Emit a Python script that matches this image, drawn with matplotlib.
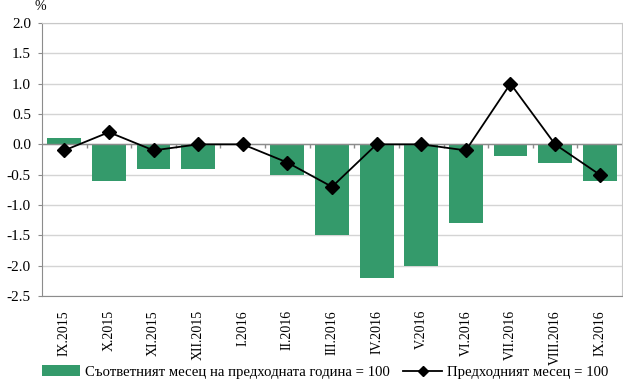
import matplotlib
matplotlib.use("Agg")
import matplotlib.pyplot as plt
from matplotlib.markers import TICKDOWN
import numpy as np

months = ["IX.2015", "X.2015", "XI.2015", "XII.2015", "I.2016", "II.2016", "III.2016",
          "IV.2016", "V.2016", "VI.2016", "VII.2016", "VIII.2016", "IX.2016"]
same_month_prev_year = [0.1, -0.6, -0.4, -0.4, 0.0, -0.5, -1.5, -2.2, -2.0, -1.3, -0.2, -0.3, -0.6]
prev_month = [-0.1, 0.2, -0.1, 0.0, 0.0, -0.3, -0.7, 0.0, 0.0, -0.1, 1.0, 0.0, -0.5]
yticks = [2.0, 1.5, 1.0, 0.5, 0.0, -0.5, -1.0, -1.5, -2.0, -2.5]

plt.rcParams['font.family'] = ['Liberation Serif', 'DejaVu Serif']

fig = plt.figure(figsize=(6.23, 3.80), dpi=100)
ax = fig.add_axes([42 / 623, 1 - 296 / 380, 580 / 623, 273 / 380])

x = np.arange(len(months))
green = '#349a6b'
bars = ax.bar(x, same_month_prev_year, width=0.76, color=green, zorder=2,
              label='Съответният месец на предходната година = 100')
line, = ax.plot(x, prev_month, color='black', lw=1.3, marker='D', markersize=7, zorder=4,
                label='Предходният месец = 100')

# category axis drawn through zero
ax.axhline(0, color='#8c8c8c', lw=1, zorder=3)
bounds = np.arange(len(months) + 1) - 0.5
ax.plot(bounds[1:-1], np.zeros(len(bounds) - 2), ls='none', marker=TICKDOWN,
        markersize=3, color='#8c8c8c', zorder=3)

ax.set_xlim(-0.5, len(months) - 0.5)
ax.set_ylim(-2.5, 2.0)
ax.set_yticks(yticks)
ax.set_yticklabels([f"{v:.1f}" for v in yticks], fontsize=11)
ax.yaxis.grid(True, color='#d4d4d4', lw=1, zorder=0)
ax.set_axisbelow(True)
ax.tick_params(axis='y', length=3, color='#8c8c8c', pad=5)

ax.set_xticks(x)
ax.set_xticklabels(months, rotation=90, fontsize=10)
ax.tick_params(axis='x', length=0, pad=10)

for s in ['top', 'right']:
    ax.spines[s].set_color('#c8c8c8')
for s in ['left', 'bottom']:
    ax.spines[s].set_color('#8c8c8c')

fig.text(40 / 623, 1 - 6 / 380, '%', fontsize=10, ha='center', va='center')

ax.legend([bars, line], [bars.get_label(), line.get_label()],
          loc='center', bbox_to_anchor=(0.488, -(372 - 296) / 273), ncol=2,
          frameon=False, fontsize=10.6, handlelength=2.6, columnspacing=0.9,
          handletextpad=0.35, borderaxespad=0, borderpad=0, markerscale=0.8)

fig.savefig('out.png', dpi=100)
